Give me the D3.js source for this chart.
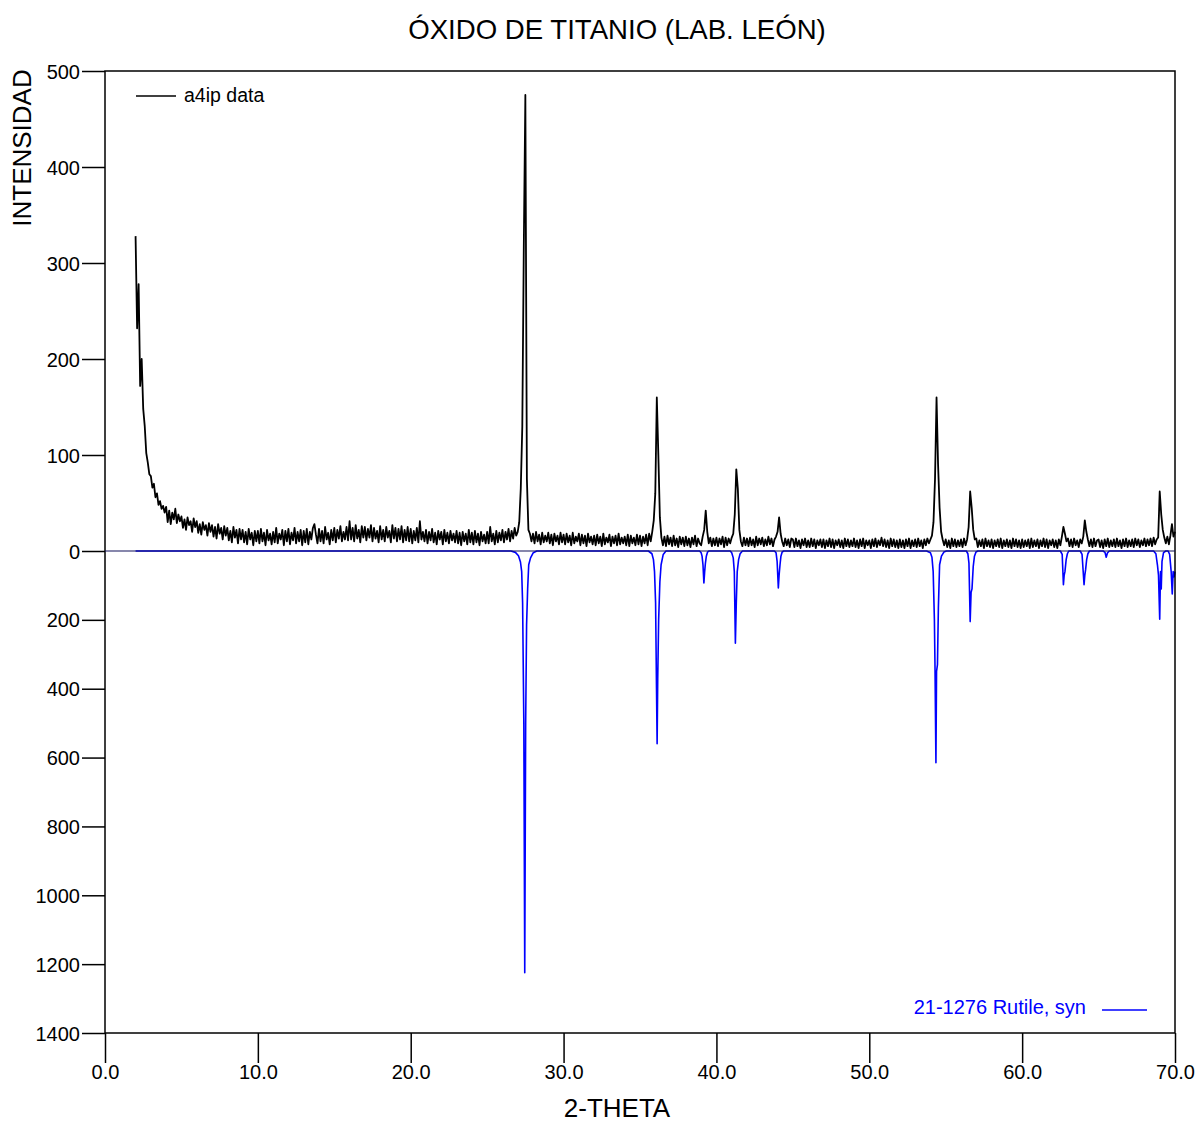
<!DOCTYPE html>
<html><head><meta charset="utf-8">
<script src="https://cdn.jsdelivr.net/npm/d3@7"></script>
<style>body{margin:0;background:#fff}svg{display:block}text{font-family:"Liberation Sans",Arial,sans-serif}</style>
</head><body><svg id="c" width="1200" height="1123"></svg>
<script>
// ---- data ----
const chartTitle = "ÓXIDO DE TITANIO (LAB. LEÓN)";
const xTitle = "2-THETA";
const yTitle = "INTENSIDAD";
const xTicks = [0,10,20,30,40,50,60,70];
const yTopTicks = [0,100,200,300,400,500];
const yBottomTicks = [200,400,600,800,1000,1200,1400];
const measuredLabel = "a4ip data";
const referenceLabel = "21-1276 Rutile, syn";
const thetaStart = 2.0, thetaStep = 0.1;
// measured counts, 2.0 .. 70.0 deg every 0.1 deg
const counts = [
328,232,278,172,200,148,130,102,92,80,
78,66,70,56,60,48,52,44,47,40,
46,30,42,28,40,33,44,29,38,31,
36,24,33,22,35,27,31,20,34,25,
31,19,28,17,30,22,27,16,29,20,
27,15,25,13,28,18,24,12,26,16,
24,11,21,9,25,14,22,8,23,12,
22,9,20,7,23,12,19,6,21,10,
21,8,23,10,19,6,22,11,18,7,
20,9,24,8,18,12,22,6,21,10,
23,7,19,11,24,8,20,10,22,6,
21,9,23,7,20,12,24,28,17,8,
23,10,21,8,25,12,19,7,22,11,
24,9,22,13,26,10,20,12,25,11,
31,12,24,10,27,13,22,9,26,14,
25,11,23,14,27,10,24,13,21,9,
26,12,22,10,25,14,21,9,27,13,
24,10,23,12,26,9,22,11,25,10,
23,8,21,11,24,9,31,12,20,10,
22,8,20,11,23,9,19,7,21,12,
20,7,22,10,19,8,21,11,18,9,
21,8,19,6,20,10,18,7,22,9,
19,7,21,9,18,6,20,10,17,8,
20,8,25,10,18,7,21,9,19,11,
22,9,20,12,23,10,21,13,24,16,
20,30,65,130,320,475,75,22,18,10,
18,8,20,10,17,7,19,9,16,10,
19,8,17,6,18,10,16,7,19,9,
17,7,18,9,16,6,19,8,15,10,
18,6,17,8,16,5,18,9,15,7,
16,6,17,8,15,5,18,7,14,9,
17,5,15,8,16,6,18,7,14,8,
15,6,17,5,16,8,14,6,17,7,
16,5,15,8,17,6,18,10,20,32,
60,160,100,35,14,6,15,5,16,7,
14,5,16,6,13,4,15,7,14,5,
15,6,13,4,14,7,16,5,13,8,
6,15,22,42,20,8,14,5,13,6,
14,5,13,7,15,4,14,6,13,8,
14,18,38,85,65,22,10,5,14,6,
13,5,14,6,12,4,15,6,13,7,
14,5,12,6,15,7,13,5,12,15,
20,35,18,10,5,13,6,12,4,13,
12,4,13,5,11,3,12,6,13,4,
11,4,13,5,12,3,11,6,12,4,
12,3,11,5,13,4,12,3,11,6,
12,4,11,3,13,5,12,4,11,5,
13,4,11,3,12,5,13,3,11,6,
11,3,12,5,13,4,11,6,14,5,
12,4,11,3,13,5,12,4,11,3,
12,4,11,3,12,5,13,3,11,5,
12,4,13,5,11,3,12,6,13,8,
12,16,30,75,160,90,45,20,12,6,
12,4,11,3,13,5,12,4,11,5,
12,4,13,6,12,25,62,45,22,12,
13,4,11,5,12,3,13,5,11,4,
12,3,11,5,12,4,13,3,11,5,
12,4,11,3,13,5,12,4,11,3,
12,4,11,5,12,3,13,4,11,5,
12,3,11,5,13,4,12,3,11,6,
12,4,11,3,12,6,15,25,18,10,
13,5,12,4,13,6,11,4,12,8,
15,32,20,12,5,12,4,13,5,11,
12,4,11,3,12,5,13,4,11,5,
12,4,13,5,11,3,12,5,13,4,
11,5,12,4,13,6,12,4,11,6,
13,5,12,6,13,5,14,7,12,14,
62,38,22,14,8,15,7,16,28,15,
20];
// reference pattern profile [2-theta, intensity] (drawn downward)
const rutileProfile = [
[2.0,0],[26.55,0],[26.85,4],[27.05,14],[27.18,32],[27.26,60],[27.32,150],[27.4,500],[27.46,1225],[27.52,500],[27.58,215],[27.65,110],[27.72,40],[27.84,20],[28.02,5],[28.25,0],
[35.55,0],[35.78,8],[35.88,25],[35.95,60],[36.02,150],[36.08,400],[36.12,560],[36.16,370],[36.22,200],[36.3,90],[36.38,40],[36.52,10],[36.7,0],
[38.9,0],[39.0,5],[39.06,15],[39.12,40],[39.18,93],[39.23,60],[39.28,35],[39.34,15],[39.42,3],[39.5,0],
[40.9,0],[41.0,5],[41.1,20],[41.17,60],[41.24,268],[41.3,150],[41.36,60],[41.45,25],[41.55,8],[41.7,0],
[43.8,0],[43.9,5],[43.97,30],[44.05,107],[44.1,70],[44.16,40],[44.22,15],[44.3,3],[44.4,0],
[53.75,0],[54.0,5],[54.1,18],[54.18,60],[54.26,200],[54.3,340],[54.36,615],[54.4,350],[54.46,330],[54.52,165],[54.6,40],[54.72,15],[54.88,3],[55.05,0],
[56.35,0],[56.45,8],[56.52,35],[56.6,205],[56.66,120],[56.72,110],[56.8,45],[56.88,15],[56.98,3],[57.1,0],
[62.5,0],[62.62,10],[62.7,98],[62.75,70],[62.8,60],[62.88,25],[62.96,8],[63.05,0],
[63.8,0],[63.92,10],[64.05,98],[64.1,70],[64.15,55],[64.22,25],[64.3,8],[64.4,0],
[65.3,0],[65.42,4],[65.5,18],[65.58,6],[65.7,0],
[68.6,0],[68.75,8],[68.85,40],[68.92,70],[69.0,198],[69.05,60],[69.1,110],[69.15,30],[69.25,5],[69.4,0],
[69.55,0],[69.65,10],[69.75,60],[69.82,125],[69.88,60],[69.94,75],[70.0,60]
];

// ---- layout ----
const L=105, R=1175, T=71, Z=551, B=1033;
const svg = d3.select("#c");
const x = d3.scaleLinear().domain([0,70]).range([L,R]);
const yTop = d3.scaleLinear().domain([0,500]).range([Z,T]);
const yBot = d3.scaleLinear().domain([0,1400]).range([Z,B]);

const measured = counts.map((v,i)=>[thetaStart+i*thetaStep, v]);

// reference pattern (blue)
svg.append("path").datum(rutileProfile)
  .attr("d", d3.line().x(d=>x(d[0])).y(d=>yBot(d[1])))
  .attr("fill","none").attr("stroke","#0000ff").attr("stroke-width",1.6).attr("stroke-linejoin","round");

// axes
const fontSize = "20px";
const gL1 = svg.append("g").attr("transform",`translate(${L},0)`)
  .call(d3.axisLeft(yTop).tickValues(yTopTicks).tickSize(23).tickPadding(2).tickFormat(d3.format("d")));
const gL2 = svg.append("g").attr("transform",`translate(${L},0)`)
  .call(d3.axisLeft(yBot).tickValues(yBottomTicks).tickSize(23).tickPadding(2).tickFormat(d3.format("d")));
const gB = svg.append("g").attr("transform",`translate(0,${B})`)
  .call(d3.axisBottom(x).tickValues(xTicks).tickSize(30).tickPadding(4).tickFormat(d3.format(".1f")));
[gL1,gL2,gB].forEach(g=>{
  g.select(".domain").remove();
  g.selectAll("line").attr("stroke","#000").attr("stroke-width",1.5);
  g.selectAll("text").attr("font-size",fontSize).attr("fill","#000").style("font-family",'"Liberation Sans",Arial,sans-serif');
});
gL1.selectAll("text").attr("dy","0.35em");
gL2.selectAll("text").attr("dy","0.35em");
gB.selectAll("text").attr("dy","0.62em");

// frame + zero line
svg.append("rect").attr("x",L).attr("y",T).attr("width",R-L).attr("height",B-T)
  .attr("fill","none").attr("stroke","#000").attr("stroke-width",1.5);
svg.append("line").attr("x1",L).attr("x2",R).attr("y1",Z).attr("y2",Z)
  .attr("stroke","#10105a").attr("stroke-width",1.2);

// measured (black)
svg.append("path").datum(measured)
  .attr("d", d3.line().x(d=>x(d[0])).y(d=>yTop(d[1])))
  .attr("fill","none").attr("stroke","#000").attr("stroke-width",1.8).attr("stroke-linejoin","round");

// titles
svg.append("text").attr("x",617).attr("y",39).attr("text-anchor","middle").attr("font-size","27.6px").text(chartTitle);
svg.append("text").attr("x",617).attr("y",1117).attr("text-anchor","middle").attr("font-size","26px").text(xTitle);
svg.append("text").attr("transform","translate(31,148) rotate(-90)").attr("text-anchor","middle").attr("font-size","26px").text(yTitle);

// legends
svg.append("line").attr("x1",136).attr("x2",176).attr("y1",96).attr("y2",96).attr("stroke","#000").attr("stroke-width",1.5);
svg.append("text").attr("x",184).attr("y",102).attr("font-size","19.5px").text(measuredLabel);
svg.append("line").attr("x1",1102).attr("x2",1147).attr("y1",1010).attr("y2",1010).attr("stroke","#0000ff").attr("stroke-width",1.5);
svg.append("text").attr("x",1086).attr("y",1014).attr("text-anchor","end").attr("font-size","20px").attr("fill","#0000ff").text(referenceLabel);
</script></body></html>
